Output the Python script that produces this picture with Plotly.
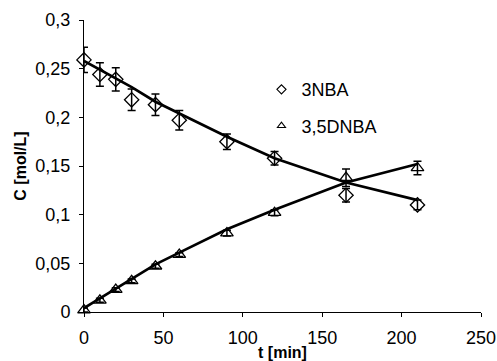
import plotly.graph_objects as go

t = [0, 10, 20, 30, 45, 60, 90, 120, 165, 210]

nba = [0.259, 0.244, 0.239, 0.218, 0.213, 0.197, 0.175, 0.158, 0.120, 0.110]
nba_err = [0.013, 0.012, 0.012, 0.011, 0.011, 0.010, 0.008, 0.007, 0.007, 0.005]
nba_fit = [0.258, 0.249, 0.240, 0.231, 0.216, 0.204, 0.180, 0.158, 0.133, 0.115]

dnba = [0.002, 0.012, 0.023, 0.032, 0.047, 0.059, 0.081, 0.102, 0.138, 0.148]
dnba_err = [0.002, 0.002, 0.002, 0.002, 0.002, 0.002, 0.003, 0.003, 0.009, 0.007]
dnba_fit = [0.004, 0.014, 0.024, 0.034, 0.049, 0.061, 0.085, 0.105, 0.133, 0.152]

fig = go.Figure()

fig.add_trace(go.Scatter(x=t, y=nba_fit, mode="lines", line=dict(color="black", width=2.7),
                         showlegend=False, hoverinfo="skip", cliponaxis=False))
fig.add_trace(go.Scatter(x=t, y=dnba_fit, mode="lines", line=dict(color="black", width=2.7),
                         showlegend=False, hoverinfo="skip", cliponaxis=False))

fig.add_trace(go.Scatter(
    x=t, y=nba, mode="markers", name="3NBA", showlegend=False,
    marker=dict(symbol="diamond-open", size=11, color="black", line=dict(width=1.3)),
    error_y=dict(type="data", array=nba_err, color="black", thickness=1.5, width=4),
    cliponaxis=False))
fig.add_trace(go.Scatter(
    x=t, y=dnba, mode="markers", name="3,5DNBA", showlegend=False,
    marker=dict(symbol="triangle-up-open", size=11, color="black", line=dict(width=1.3)),
    error_y=dict(type="data", array=dnba_err, color="black", thickness=1.5, width=4),
    cliponaxis=False))

# legend entries with smaller symbols
fig.add_trace(go.Scatter(x=[None], y=[None], mode="markers", name="3NBA", legendgroup="a",
                         marker=dict(symbol="diamond-open", size=7, color="black", line=dict(width=1.1))))
fig.add_trace(go.Scatter(x=[None], y=[None], mode="markers", name="3,5DNBA", legendgroup="b",
                         marker=dict(symbol="triangle-up-open", size=7, color="black", line=dict(width=1.1))))

fig.update_layout(
    width=497, height=361,
    margin=dict(l=84, r=16, t=20, b=49),
    paper_bgcolor="white", plot_bgcolor="white",
    separators=", ",
    font=dict(family="Liberation Sans, Arial", size=18, color="black"),
    legend=dict(x=0.447, y=0.825, xanchor="left", yanchor="top", bgcolor="rgba(0,0,0,0)",
                font=dict(size=18), tracegroupgap=10, itemsizing="trace", itemwidth=30),
    showlegend=True,
)
fig.update_xaxes(range=[0, 250], dtick=50, showline=True, linecolor="black", linewidth=1,
                 ticks="outside", ticklen=4, tickcolor="black", showgrid=False, zeroline=False,
                 tickfont=dict(size=18), ticklabelstandoff=5, automargin=False,
                 title=dict(text="<b>t [min]</b>", font=dict(size=16), standoff=0))
fig.update_yaxes(range=[0, 0.3], dtick=0.05, showline=True, linecolor="black", linewidth=1,
                 ticks="outside", ticklen=4, tickcolor="black", showgrid=False, zeroline=False,
                 tickfont=dict(size=18), ticklabelstandoff=5, automargin=False,
                 title=dict(text="<b>C [mol/L]</b>", font=dict(size=16), standoff=4))

fig.write_html("out.html")
